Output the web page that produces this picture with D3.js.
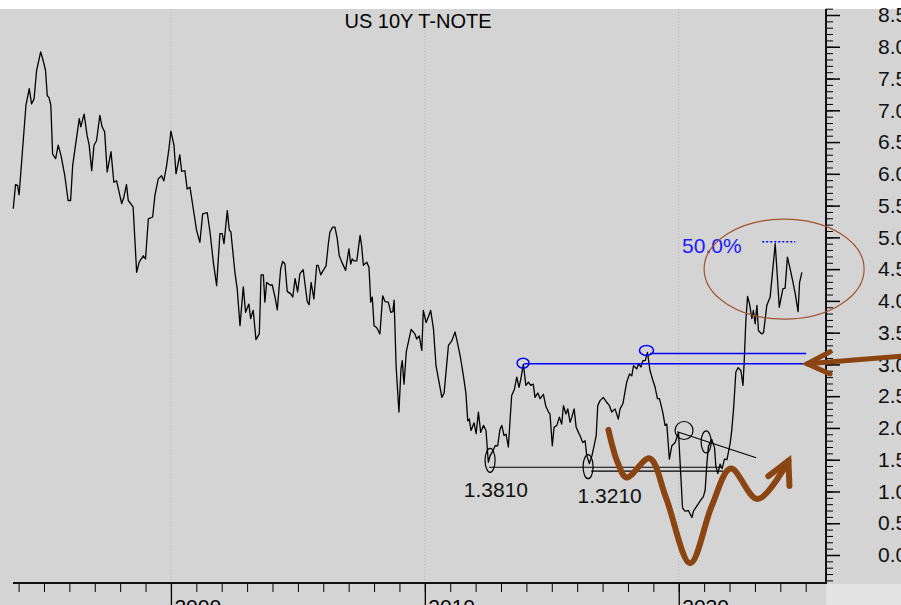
<!DOCTYPE html>
<html>
<head>
<meta charset="utf-8">
<script src="https://cdn.jsdelivr.net/npm/d3@7"></script>
<style>
body{margin:0;background:#fff}
svg{display:block;font-family:"Liberation Sans",Arial,sans-serif}
</style>
</head>
<body>
<div id="chart"></div>
<script>
// US 10Y T-NOTE yield (decimal year, %)
var years = [1993.79,1993.88,1993.96,1994.02,1994.12,1994.29,1994.42,1994.51,1994.61,1994.71,
1994.87,1994.97,1995.06,1995.13,1995.20,1995.27,1995.34,1995.46,1995.56,1995.67,
1995.82,1995.95,1996.05,1996.13,1996.22,1996.39,1996.45,1996.58,1996.70,1996.78,
1996.88,1996.97,1997.07,1997.20,1997.29,1997.39,1997.49,1997.64,1997.75,1997.86,
1998.06,1998.15,1998.25,1998.32,1998.51,1998.65,1998.75,1998.91,1999.00,1999.11,
1999.28,1999.37,1999.50,1999.63,1999.72,1999.83,1999.92,2000.00,2000.12,2000.20,
2000.35,2000.42,2000.55,2000.64,2000.75,2000.88,2001.01,2001.14,2001.25,2001.43,
2001.54,2001.67,2001.80,2001.93,2002.02,2002.09,2002.22,2002.30,2002.36,2002.52,
2002.61,2002.72,2002.85,2002.94,2003.07,2003.14,2003.24,2003.35,2003.48,2003.55,
2003.64,2003.70,2003.77,2003.90,2003.99,2004.10,2004.19,2004.32,2004.40,2004.49,
2004.58,2004.72,2004.80,2004.89,2004.99,2005.08,2005.21,2005.32,2005.37,2005.44,
2005.52,2005.63,2005.74,2005.80,2005.90,2006.00,2006.11,2006.20,2006.26,2006.37,
2006.46,2006.55,2006.63,2006.73,2006.88,2007.01,2007.08,2007.14,2007.21,2007.32,
2007.45,2007.51,2007.58,2007.71,2007.80,2007.87,2007.93,2008.00,2008.10,2008.23,
2008.34,2008.43,2008.56,2008.66,2008.74,2008.79,2008.87,2008.98,2009.06,2009.11,
2009.18,2009.27,2009.46,2009.61,2009.68,2009.78,2009.88,2009.94,2010.05,2010.14,
2010.23,2010.34,2010.44,2010.56,2010.67,2010.76,2010.93,2011.06,2011.19,2011.28,
2011.39,2011.52,2011.62,2011.69,2011.75,2011.82,2011.94,2012.02,2012.11,2012.20,
2012.31,2012.41,2012.50,2012.57,2012.68,2012.77,2012.87,2012.96,2013.03,2013.12,
2013.20,2013.29,2013.36,2013.42,2013.53,2013.62,2013.71,2013.78,2013.88,2013.98,
2014.08,2014.17,2014.27,2014.34,2014.45,2014.54,2014.67,2014.76,2014.87,2014.93,
2015.02,2015.09,2015.20,2015.30,2015.39,2015.46,2015.56,2015.63,2015.72,2015.79,
2015.88,2015.96,2016.05,2016.11,2016.22,2016.31,2016.38,2016.48,2016.58,2016.64,
2016.75,2016.81,2016.90,2017.03,2017.17,2017.27,2017.36,2017.49,2017.62,2017.69,
2017.80,2017.95,2018.06,2018.15,2018.22,2018.35,2018.41,2018.51,2018.59,2018.68,
2018.77,2018.87,2018.98,2019.07,2019.16,2019.24,2019.37,2019.46,2019.53,2019.63,
2019.73,2019.86,2019.99,2020.15,2020.25,2020.38,2020.52,2020.58,2020.71,2020.88,
2020.97,2021.04,2021.11,2021.17,2021.30,2021.41,2021.46,2021.54,2021.63,2021.71,
2021.80,2021.90,2022.03,2022.09,2022.16,2022.25,2022.34,2022.45,2022.53,2022.58,
2022.64,2022.71,2022.79,2022.88,2022.94,2023.01,2023.08,2023.14,2023.27,2023.34,
2023.47,2023.60,2023.80,2023.96,2024.10,2024.19,2024.28,2024.39,2024.50,2024.59,
2024.70,2024.76,2024.85]

var yields = [5.45,5.83,5.82,5.67,6.19,7.08,7.34,7.10,7.18,7.63,
7.92,7.78,7.63,7.23,7.20,7.08,6.31,6.24,6.45,6.29,
5.97,5.58,5.58,6.13,6.39,6.87,6.74,6.94,6.60,6.45,
6.05,6.45,6.52,6.92,6.74,6.66,6.03,6.35,5.87,5.89,
5.53,5.64,5.83,5.58,5.48,4.45,4.61,4.71,4.66,5.29,
5.32,5.66,5.92,5.97,5.89,6.13,6.39,6.67,6.45,6.00,
6.30,6.04,6.05,5.76,5.79,5.45,5.11,4.92,5.37,5.39,
5.08,4.61,4.24,5.06,5.06,4.90,5.42,5.11,5.09,4.45,
4.19,3.61,4.22,3.82,3.95,3.72,3.85,3.39,3.48,4.41,
4.41,3.98,4.29,4.25,4.25,4.06,3.86,4.50,4.62,4.58,
4.15,4.11,4.06,4.35,4.14,4.43,4.49,4.14,3.99,3.94,
4.29,4.03,4.56,4.56,4.41,4.48,4.55,4.90,5.08,5.16,
5.16,4.98,4.71,4.61,4.48,4.82,4.58,4.66,4.63,4.63,
5.03,4.87,4.56,4.61,4.53,3.98,4.06,3.61,3.58,3.48,
4.08,3.99,3.98,3.82,3.83,4.01,2.96,2.25,2.93,3.06,
2.69,3.20,3.55,3.48,3.40,3.45,3.22,3.85,3.66,3.75,
3.85,3.56,2.98,2.72,2.48,2.55,3.30,3.37,3.51,3.35,
3.14,2.82,2.54,2.11,2.14,1.96,2.08,1.91,2.25,1.93,
2.04,1.96,1.46,1.56,1.64,1.72,1.72,1.98,2.04,1.88,
1.90,1.70,2.14,2.51,2.61,2.80,2.64,2.77,3.00,2.67,
2.72,2.67,2.69,2.48,2.55,2.46,2.53,2.35,2.25,2.22,
1.72,2.01,2.04,2.17,2.06,2.35,2.22,2.30,2.09,2.17,
2.30,2.01,1.93,1.88,1.77,1.80,1.56,1.44,1.56,1.67,
1.88,2.35,2.43,2.48,2.40,2.35,2.25,2.30,2.14,2.30,
2.38,2.72,2.85,2.82,2.98,2.93,3.01,2.96,3.06,3.06,
3.19,2.90,2.75,2.64,2.46,2.46,2.25,2.04,2.06,1.51,
1.72,1.77,1.93,0.74,0.69,0.70,0.59,0.69,0.77,0.87,
0.92,1.02,1.45,1.71,1.82,1.69,1.40,1.28,1.43,1.36,
1.51,1.50,1.77,1.97,2.30,2.88,2.95,2.90,2.67,3.06,
3.66,4.07,3.95,3.72,3.85,3.64,3.93,3.53,3.48,3.50,
3.93,4.06,4.90,3.90,4.19,4.20,4.69,4.50,4.29,4.11,
3.83,4.29,4.45]

// axis ticks
var yearTicks = d3.range(1994, 2026)
var decadeTicks = [2000, 2010, 2020]
var majorTicks = d3.range(0, 18).map(function(i){ return i * 0.5 })
var minorTicks = d3.range(-4, 87).map(function(i){ return i / 10 })

// annotations (year, value)
var supportLevels = [1.381, 1.321]
var supportLabels = ["1.3810", "1.3210"]
var supportFrom = [2012.53, 2016.55]
var supportTo = [2021.74, 2021.74]
var supportLabelAt = [2012.80, 2017.28]
var lowMarks = [[2012.57, 1.49], [2016.43, 1.39], [2021.08, 1.78]]
var turnMark = [2020.21, 1.96]
var trendFrom = [2019.94, 1.94], trendTo = [2023.05, 1.53]

var resistLevels = [3.01, 3.17]
var resistFrom = [2013.91, 2018.87]
var resistTo = [2024.90, 2025.02]
var resistMarks = [[2013.87, 3.02], [2018.73, 3.22]]

var fiboLabel = "50.0%", fiboAt = [2020.13, 4.76]
var fiboLevel = 4.93, fiboFrom = 2023.29, fiboTo = 2024.59
var zoneCenter = [2024.15, 4.50]

var arrowShaft = [[2028.76, 3.13], [2025.06, 3.01]]
var arrowBarbs = [[2025.96, 3.20], [2025.06, 3.01], [2025.96, 2.85]]
var wave = [[2017.23, 1.97], [2017.6, 1.45], [2017.95, 1.22], [2018.85, 1.52], [2019.5, 0.9],
            [2020.45, -0.13], [2021.3, 0.77], [2022.05, 1.36], [2023.1, 0.88], [2024.32, 1.48]]
var waveBarbs = [[2023.53, 1.24], [2024.32, 1.48], [2024.36, 1.09]]

var width = 901, height = 605
var svg = d3.select("#chart").append("svg").attr("width", width).attr("height", height)

var x = d3.scaleLinear().domain([1993.78, 2025.8]).range([13, 826])
var y = d3.scaleLinear().domain([0, 8.5]).range([555, 15])

//backgrounds
svg.append("rect").attr("width", width).attr("height", height).attr("fill", "#fff")
svg.append("rect").attr("y", 9).attr("width", width).attr("height", height - 9).attr("fill", "#d4d4d4")
svg.append("rect").attr("x", 826).attr("y", 584).attr("width", 75).attr("height", 21).attr("fill", "#e3e3e3")

// dotted decade gridlines
svg.selectAll(".grid").data(decadeTicks).enter().append("line")
	.attr("x1", function(d){ return x(d) }).attr("x2", function(d){ return x(d) })
	.attr("y1", 9).attr("y2", 583)
	.attr("stroke", "#b8b8b8").attr("stroke-dasharray", "1,2")

svg.append("text").attr("x", 418).attr("y", 28).attr("text-anchor", "middle")
	.attr("font-size", "20px").attr("fill", "#000").text("US 10Y T-NOTE")

// the series
var data = d3.zip(years, yields)
var line = d3.line().x(function(d){ return x(d[0]) }).y(function(d){ return y(d[1]) })
svg.append("path").datum(data).attr("d", line)
	.attr("fill", "none").attr("stroke", "#000").attr("stroke-width", 1.3).attr("stroke-linejoin", "round")

// black support lines, marks and labels
supportLevels.forEach(function(v, i){
	svg.append("line").attr("x1", x(supportFrom[i])).attr("x2", x(supportTo[i]))
		.attr("y1", y(v)).attr("y2", y(v)).attr("stroke", "#000").attr("stroke-width", 1.2)
	svg.append("text").attr("x", x(supportLabelAt[i])).attr("y", y(v) + 30 + i * 2)
		.attr("text-anchor", "middle").attr("font-size", "21px").attr("fill", "#111").text(supportLabels[i])
})
svg.selectAll(".lowMark").data(lowMarks).enter().append("ellipse")
	.attr("cx", function(d){ return x(d[0]) }).attr("cy", function(d){ return y(d[1]) })
	.attr("rx", 5).attr("ry", function(d, i){ return i == 2 ? 11 : 12 })
	.attr("fill", "none").attr("stroke", "#000").attr("stroke-width", 1.2)
svg.append("circle").attr("cx", x(turnMark[0])).attr("cy", y(turnMark[1])).attr("r", 9)
	.attr("fill", "none").attr("stroke", "#000").attr("stroke-width", 1.2)
svg.append("line").attr("x1", x(trendFrom[0])).attr("y1", y(trendFrom[1]))
	.attr("x2", x(trendTo[0])).attr("y2", y(trendTo[1])).attr("stroke", "#000").attr("stroke-width", 1.2)

// blue resistance lines
resistLevels.forEach(function(v, i){
	svg.append("line").attr("x1", x(resistFrom[i])).attr("x2", x(resistTo[i]))
		.attr("y1", y(v)).attr("y2", y(v)).attr("stroke", "#0000ff").attr("stroke-width", 1.5)
})
svg.selectAll(".resMark").data(resistMarks).enter().append("ellipse")
	.attr("cx", function(d){ return x(d[0]) }).attr("cy", function(d){ return y(d[1]) })
	.attr("rx", function(d, i){ return i ? 7 : 6 }).attr("ry", 5)
	.attr("fill", "none").attr("stroke", "#0000ff").attr("stroke-width", 1.5)

svg.append("text").attr("x", x(fiboAt[0])).attr("y", y(fiboAt[1]))
	.attr("font-size", "21px").attr("fill", "#1a1aff").text(fiboLabel)
svg.append("line").attr("x1", x(fiboFrom)).attr("x2", x(fiboTo))
	.attr("y1", y(fiboLevel)).attr("y2", y(fiboLevel))
	.attr("stroke", "#0000ff").attr("stroke-width", 1.5).attr("stroke-dasharray", "2,2")

// bottom axis
svg.append("g").attr("transform", "translate(0,583)")
	.call(d3.axisBottom(x).tickValues(yearTicks).tickSize(9).tickFormat(""))
	.call(function(g){ g.select(".domain").remove() })
var xMajor = svg.append("g").attr("transform", "translate(0,583)")
	.call(d3.axisBottom(x).tickValues(decadeTicks).tickSize(24).tickFormat(d3.format("d")))
	.call(function(g){ g.select(".domain").remove() })
xMajor.selectAll("text").attr("x", 3).attr("y", 31).attr("dy", null)
	.attr("text-anchor", "start").attr("font-size", "21px").attr("font-family", null)

// right axis
svg.append("g").attr("transform", "translate(826,0)")
	.call(d3.axisRight(y).tickValues(minorTicks).tickSize(7).tickFormat(""))
	.call(function(g){ g.select(".domain").remove() })
var yMajor = svg.append("g").attr("transform", "translate(826,0)")
	.call(d3.axisRight(y).tickValues(majorTicks).tickSize(14).tickPadding(38).tickFormat(d3.format(".1f")))
	.call(function(g){ g.select(".domain").remove() })
yMajor.selectAll("text").attr("font-size", "21px").attr("font-family", null).attr("fill", "#111")
xMajor.selectAll("line").attr("stroke-width", 1.3)
yMajor.selectAll("line").attr("stroke-width", 1.5)

svg.append("line").attr("x1", 13).attr("x2", 827).attr("y1", 583).attr("y2", 583)
	.attr("stroke", "#111").attr("stroke-width", 2)
svg.append("line").attr("x1", 826).attr("x2", 826).attr("y1", 9).attr("y2", 584)
	.attr("stroke", "#111").attr("stroke-width", 2)

// brown drawings on top
var brown = "#8b4513"
svg.append("ellipse").attr("cx", x(zoneCenter[0])).attr("cy", y(zoneCenter[1]))
	.attr("rx", 80).attr("ry", 50).attr("fill", "none").attr("stroke", "#a0522d").attr("stroke-width", 1.2)

var pt = d3.line().x(function(d){ return x(d[0]) }).y(function(d){ return y(d[1]) })
svg.append("path").attr("d", pt(arrowShaft)).attr("fill", "none")
	.attr("stroke", brown).attr("stroke-width", 5).attr("stroke-linecap", "round")
svg.append("path").attr("d", pt(arrowBarbs)).attr("fill", "none")
	.attr("stroke", brown).attr("stroke-width", 5).attr("stroke-linecap", "round").attr("stroke-linejoin", "miter")

svg.append("path").attr("d", pt.curve(d3.curveCatmullRom)(wave)).attr("fill", "none")
	.attr("stroke", brown).attr("stroke-width", 6).attr("stroke-linecap", "round")
pt.curve(d3.curveLinear)
svg.append("path").attr("d", pt(waveBarbs)).attr("fill", "none")
	.attr("stroke", brown).attr("stroke-width", 6).attr("stroke-linecap", "round").attr("stroke-linejoin", "miter")
</script>
</body>
</html>
